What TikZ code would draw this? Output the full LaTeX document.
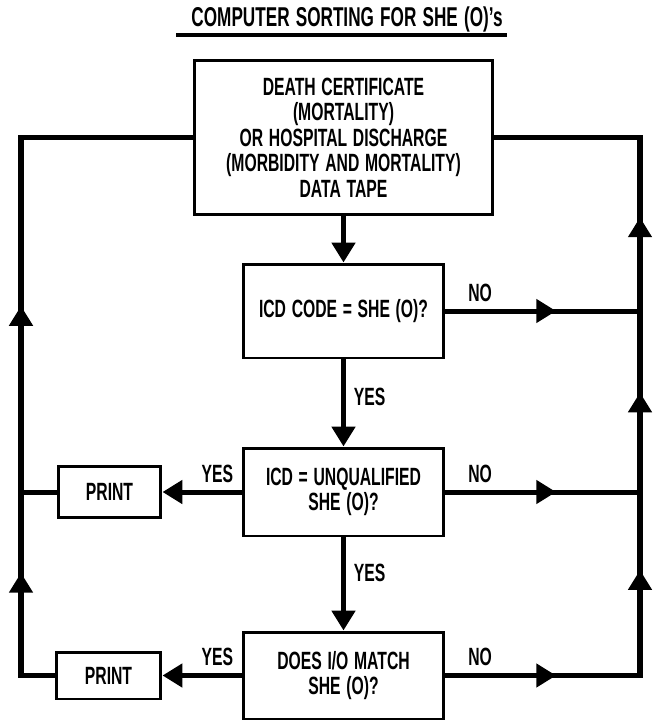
\documentclass[tikz,border=0pt]{standalone}
\usepackage{fontspec}
\setmainfont{Liberation Sans}[FakeStretch=0.63, WordSpace=1.3]
\usetikzlibrary{arrows.meta,decorations.markings}

\tikzset{
  box/.style={draw, line width=1.7pt, align=center, inner sep=0pt, font=\bfseries\fontsize{14.2}{14.5}\selectfont},
  lab/.style={font=\bfseries\fontsize{14.2}{14.5}\selectfont, inner sep=0pt},
  wire/.style={line width=2.85pt},
  flow/.style={wire, -{Triangle[length=11.3pt,width=13pt]}},
  flowmark/.style={wire, postaction={decorate}, decoration={markings, mark=at position #1 with {\arrow{Triangle[length=11.3pt,width=13pt]}}}}
}

\begin{document}
\begin{tikzpicture}[x=0.02cm, y=-0.02cm]
\useasboundingbox (0,0) rectangle (656,721);

% Title
\node[lab, font=\bfseries\fontsize{15.5}{16}\selectfont] (title) at (347,19) {COMPUTER SORTING FOR SHE (O)'s};
\draw[line width=2.3pt] (176,35) -- (507,35);

% Boxes
\node[box, minimum width=5.96cm, minimum height=3.1cm] (src) at (343.5,137.5) {DEATH CERTIFICATE\\(MORTALITY)\\OR HOSPITAL DISCHARGE\\(MORBIDITY AND MORTALITY)\\DATA TAPE};
\node[box, minimum width=4cm, minimum height=1.88cm] (icd) at (343.5,311) {ICD CODE = SHE (O)?};
\node[box, minimum width=4cm, minimum height=1.76cm] (unq) at (343.5,492) {ICD = UNQUALIFIED\\SHE (O)?};
\node[box, minimum width=4cm, minimum height=1.74cm] (io) at (343.5,675.5) {DOES I/O MATCH\\SHE (O)?};
\node[box, minimum width=2.06cm, minimum height=1.02cm] (print1) at (109.5,492) {PRINT};
\node[box, minimum width=2.1cm, minimum height=0.94cm] (print2) at (108.5,675.5) {PRINT};

% Corners of the loops
\coordinate (lb) at (21,675.5);
\coordinate (lj) at (21,492);
\coordinate (lt) at (21,137.5);
\coordinate (rb) at (640,675.5);
\coordinate (rj2) at (640,492);
\coordinate (rj1) at (640,311);
\coordinate (rt) at (640,137.5);

% Main flow
\draw[flow] (src) -- (icd);
\draw[flow] (icd) -- (unq) node[lab, pos=0.43, right=4.5pt] {YES};
\draw[flow] (unq) -- (io) node[lab, pos=0.38, right=4.5pt] {YES};

% Yes: print
\draw[flow] (unq) -- (print1) node[lab, pos=0.31, above=4pt] {YES};
\draw[flow] (io) -- (print2) node[lab, pos=0.31, above=4pt] {YES};

% Left loop back to the tape
\draw[wire] (print2.west) -- (lb) -- (lt) -- (src.west);
\draw[wire] (print1.west) -- (lj);
\draw[flowmark=0.56] (lb) -- (lj);
\draw[flowmark=0.525] (lj) -- (lt);

% No: right loop back to the tape
\draw[wire] (io.east) -- (rb) -- (rt) -- (src.east);
\draw[flowmark=0.57] (icd.east) -- (rj1) node[lab, pos=0.18, above=4pt] {NO};
\draw[flowmark=0.57] (unq.east) -- (rj2) node[lab, pos=0.18, above=4pt] {NO};
\draw[flowmark=0.57] (io.east) -- (rb) node[lab, pos=0.18, above=4pt] {NO};
\draw[flowmark=0.575] (rb) -- (rj2);
\draw[flowmark=0.55] (rj2) -- (rj1);
\draw[flowmark=0.54] (rj1) -- (rt);
\end{tikzpicture}
\end{document}
